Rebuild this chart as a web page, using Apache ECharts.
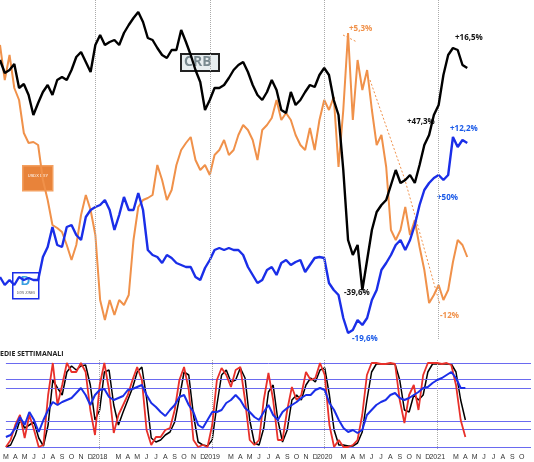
<!DOCTYPE html>
<html><head><meta charset="utf-8">
<script src="https://cdn.jsdelivr.net/npm/echarts@6/dist/echarts.min.js"></script>
<style>html,body{margin:0;padding:0;background:#fff}#c{width:534px;height:462px}</style>
</head><body><div id="c"></div>
<script>
// month tick labels (from Mar 2017), one per two weekly-ish steps
var monthLabels = ['M','A','M','J','J','A','S','O','N','D','2018','','M','A','M','J','J','A','S','O','N','D','2019','','M','A','M','J','J','A','S','O','N','D','2020','','M','A','M','J','J','A','S','O','N','D','2021','','M','A','M','J','J','A','S','O'];
var yearIdx = [20,44,68,92];
// top panel (position levels, higher number = lower on chart)
var crb = [60,73,70,64,88,84,95,115,103,92,85,95,80,77,80,70,57,52,62,72,45,35,45,42,40,45,33,25,18,12,22,38,40,48,55,58,50,50,30,42,55,70,82,110,100,88,88,85,78,70,65,62,72,85,95,100,92,80,90,110,113,92,105,100,92,85,87,75,68,75,100,115,170,240,255,245,290,260,230,212,205,200,185,170,183,180,175,183,165,145,135,115,105,75,55,48,50,65,68];
var usd = [45,80,55,88,100,133,143,142,145,180,200,225,228,232,245,260,245,215,195,210,235,300,320,300,315,300,305,295,240,207,200,198,195,165,180,200,190,165,150,143,137,160,170,165,175,155,150,140,155,150,135,125,130,140,160,130,125,118,100,120,113,120,135,145,150,128,150,120,100,110,97,167,110,33,120,60,90,70,110,145,135,167,230,240,230,207,235,220,247,270,303,295,285,300,290,262,240,245,257];
var dow = [277,285,280,285,277,280,278,280,280,257,247,227,245,247,227,225,235,240,217,210,207,205,200,210,230,215,197,210,210,193,210,250,255,257,263,255,258,263,265,267,267,277,280,268,260,250,248,250,248,250,250,255,267,275,283,280,270,267,275,263,260,265,262,260,272,265,258,257,258,283,290,295,318,333,330,320,325,318,300,290,270,263,255,245,240,250,240,225,205,190,183,178,175,180,175,137,147,140,143];
// bottom panel oscillators (weekly averages)
var fast = [447,440,425,415,438,415,430,447,445,395,363,405,385,363,372,372,363,372,410,435,385,363,390,433,415,405,395,380,367,380,430,445,437,437,430,428,410,380,367,390,440,447,445,447,425,380,368,375,387,370,367,400,440,445,440,400,373,400,440,440,410,387,400,395,372,380,378,363,375,425,447,440,447,447,445,440,415,375,363,363,364,364,363,364,400,423,395,385,410,375,363,363,363,364,363,365,385,420,437];
var slow = [447,445,435,420,428,425,422,438,446,425,380,388,395,372,366,370,366,365,385,420,410,372,370,405,425,412,400,388,372,367,398,438,442,440,435,432,422,398,372,375,415,442,445,446,440,405,375,370,382,380,368,378,420,443,445,428,392,385,420,442,430,400,395,400,385,378,382,370,368,395,430,445,445,446,446,443,432,400,372,364,364,364,364,364,380,410,412,395,400,395,372,364,364,364,364,364,372,400,420];
var longAvg = [437,435,428,417,425,412,420,432,420,410,402,405,402,400,398,393,388,395,405,395,390,389,397,400,398,396,390,389,387,385,395,403,407,412,416,410,405,397,395,405,412,425,428,420,412,412,410,403,400,395,400,408,412,417,420,412,405,415,420,412,408,405,402,398,395,395,390,388,390,403,410,420,428,432,430,433,430,415,410,405,402,400,395,393,398,400,398,395,392,388,387,383,380,378,375,372,378,388,388];
var levels = [363,379,388,421,429,447];

var cats = [];
for (var i = 0; i < 113; i++) cats.push(i % 2 === 0 ? (monthLabels[i/2] || '') : '');
var yearLines = {silent:true,symbol:'none',label:{show:false},lineStyle:{color:'#aaa',type:'dotted',width:1},data:yearIdx.map(function(k){return {xAxis:k};})};

var chart = echarts.init(document.getElementById('c'));
function txt(x,y,t,c,fs){return {type:'text',left:x,top:y,style:{text:t,fill:c,font:'bold '+(fs||8)+'px "Open Sans", sans-serif'}};}
chart.setOption({
  animation:false,
  grid:[{left:0,right:0,top:0,height:340},{left:0,right:0,top:360,height:90}],
  xAxis:[
    {type:'category',gridIndex:0,data:cats,boundaryGap:false,show:false},
    {type:'category',gridIndex:1,data:cats,boundaryGap:false,axisLine:{show:false},axisTick:{show:false},
     axisLabel:{interval:0,fontSize:7,color:'#333',margin:4}}
  ],
  yAxis:[
    {type:'value',gridIndex:0,min:0,max:340,inverse:true,show:false},
    {type:'value',gridIndex:1,min:360,max:450,inverse:true,show:false}
  ],
  series:[
    {type:'line',xAxisIndex:0,yAxisIndex:0,data:crb,symbol:'none',lineStyle:{color:'#000',width:2.4},markLine:yearLines,z:5},
    {type:'line',xAxisIndex:0,yAxisIndex:0,data:usd,symbol:'none',lineStyle:{color:'#f0914a',width:2},z:3},
    {type:'line',xAxisIndex:0,yAxisIndex:0,data:dow,symbol:'none',lineStyle:{color:'#1a2ee8',width:2.4},z:4},
    {type:'line',xAxisIndex:1,yAxisIndex:1,data:slow,symbol:'none',lineStyle:{color:'#000',width:1.5},z:4,
     markLine:{silent:true,symbol:'none',label:{show:false},data:levels.map(function(v){return {yAxis:v,lineStyle:{color:'#6a6af0',type:'solid',width:1}};}).concat(yearIdx.map(function(k){return {xAxis:k,lineStyle:{color:'#aaa',type:'dotted',width:1}};}))}},
    {type:'line',xAxisIndex:1,yAxisIndex:1,data:fast,symbol:'none',lineStyle:{color:'#e8302a',width:1.8},z:5},
    {type:'line',xAxisIndex:1,yAxisIndex:1,data:longAvg,symbol:'none',lineStyle:{color:'#1a2ee8',width:2},z:6}
  ],
  graphic:[
    {type:'group',left:180,top:53,children:[
      {type:'rect',shape:{x:0,y:0,width:38,height:17},style:{fill:'#e8eef0',stroke:'#222',lineWidth:2}},
      {type:'text',left:3,top:1,style:{text:'CRB',fill:'#7a8a90',font:'bold 14px "Open Sans", sans-serif'}}]},
    {type:'group',left:22,top:165,children:[
      {type:'rect',shape:{x:0,y:0,width:30,height:25},style:{fill:'#e8833a',stroke:'#f3a060',lineWidth:1.5}},
      {type:'text',left:5,top:8,style:{text:'USDX DXY',fill:'#fff',font:'4px sans-serif'}}]},
    {type:'group',left:12,top:272,children:[
      {type:'rect',shape:{x:0,y:0,width:26,height:26},style:{fill:'#fff',stroke:'#1a2ee8',lineWidth:1.5}},
      {type:'text',left:8,top:2,style:{text:'D',fill:'#3aa0e0',font:'bold 13px sans-serif'}},
      {type:'text',left:4,top:19,style:{text:'DOW JONES',fill:'#555',font:'3px sans-serif'}}]},
    {type:'polyline',shape:{points:[[343,35],[357,42]]},style:{stroke:'#f0914a',lineDash:[2,2],lineWidth:1}},
    {type:'polyline',shape:{points:[[370,80],[405,180],[440,305]]},style:{stroke:'#f0914a',lineDash:[2,2],lineWidth:1}},
    txt(349,25,'+5,3%','#f0914a'),
    txt(440,312,'-12%','#f0914a'),
    txt(450,125,'+12,2%','#1a5ae8'),
    txt(437,194,'+50%','#1a5ae8'),
    txt(352,335,'-19,6%','#1a5ae8'),
    txt(344,289,'-39,6%','#111'),
    txt(407,118,'+47,3%','#111'),
    txt(455,34,'+16,5%','#111'),
    txt(0,350,'EDIE SETTIMANALI','#222',7)
  ]
});
</script></body></html>
